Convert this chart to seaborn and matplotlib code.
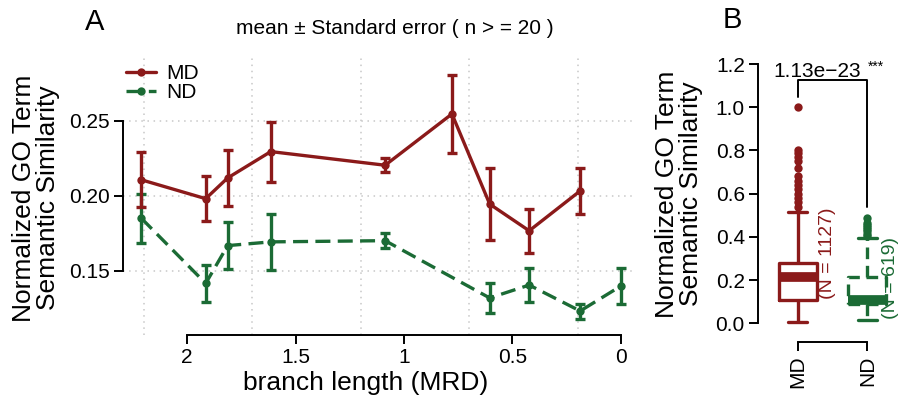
import pandas as pd
import matplotlib
matplotlib.use("Agg")
import matplotlib.pyplot as plt
import seaborn as sns
from matplotlib.lines import Line2D

# Panel A: mean +/- standard error per branch length (MRD)
branch_md = [2.211, 1.914, 1.813, 1.614, 1.087, 0.779, 0.605, 0.423, 0.188]
mean_md = [0.2108, 0.1982, 0.2120, 0.2296, 0.2205, 0.2547, 0.1946, 0.1768, 0.2034]
se_md = [0.0183, 0.0150, 0.0189, 0.0200, 0.0048, 0.0258, 0.0240, 0.0146, 0.0153]

branch_nd = [2.211, 1.914, 1.813, 1.614, 1.087, 0.605, 0.423, 0.188, 0.0]
mean_nd = [0.1852, 0.1417, 0.1669, 0.1694, 0.1702, 0.1320, 0.1406, 0.1233, 0.1400]
se_nd = [0.0164, 0.0121, 0.0158, 0.0187, 0.0052, 0.0098, 0.0116, 0.0050, 0.0122]

x_ticks = [2, 1.5, 1, 0.5, 0]
x_ticklabels = ["2", "1.5", "1", "0.5", "0"]
y_ticks_a = [0.15, 0.20, 0.25]
grid_x = [2.2, 1.7, 1.2, 0.7, 0.2]

md_low = [0.008]
md_q1 = [0.108] * 15
md_med = [0.215] * 15
md_q3 = [0.279] * 15
md_whisk_hi = [0.515]
md_out = [0.54, 0.56, 0.58, 0.60, 0.62, 0.64, 0.66, 0.68, 0.72, 0.75, 0.77, 0.79, 0.80, 1.00]

nd_low = [0.015, 0.03, 0.04, 0.05, 0.06, 0.065, 0.07, 0.075, 0.08, 0.085]
nd_q1 = [0.088] * 11
nd_med = [0.11] * 11
nd_q3 = [0.212] * 11
nd_whisk_hi = [0.378]
nd_out = [0.395, 0.405, 0.415, 0.425, 0.435, 0.445, 0.455, 0.465, 0.485]

n_md = 1127
n_nd = 619
p_value = "1.13e\u221223"

colors = {"MD": "#8B1A1A", "ND": "#1B6B35"}

sns.set_style("ticks")
plt.rcParams["font.family"] = ["Liberation Sans", "DejaVu Sans"]
plt.rcParams["text.color"] = "black"
plt.rcParams["axes.labelcolor"] = "black"
plt.rcParams["xtick.color"] = "black"
plt.rcParams["ytick.color"] = "black"

fig = plt.figure(figsize=(9.02, 4.04), dpi=100)
ax_a = fig.add_axes([0.1364, 0.1708, 0.5643, 0.6856])
ax_b = fig.add_axes([0.8404, 0.1535, 0.1585, 0.7030])

# ---- panel A ----
for v in grid_x:
    ax_a.axvline(v, color="#c8c8c8", ls=(0, (1, 3)), lw=1.1, zorder=0)
for h in y_ticks_a:
    ax_a.axhline(h, color="#c8c8c8", ls=(0, (1, 3)), lw=1.1, zorder=0)

df_a = pd.DataFrame({
    "branch": branch_md + branch_nd,
    "sim": mean_md + mean_nd,
    "group": ["MD"] * len(branch_md) + ["ND"] * len(branch_nd),
})
sns.lineplot(data=df_a, x="branch", y="sim", hue="group", style="group",
             palette=colors, dashes={"MD": "", "ND": (4.5, 2.2)},
             markers={"MD": "o", "ND": "o"}, markersize=6, markeredgewidth=0,
             linewidth=2.4, sort=False, estimator=None, legend=False, ax=ax_a)

ax_a.errorbar(branch_nd, mean_nd, yerr=se_nd, fmt="none", ecolor=colors["ND"],
              elinewidth=2.4, capsize=3.5, capthick=2.4)
ax_a.errorbar(branch_md, mean_md, yerr=se_md, fmt="none", ecolor=colors["MD"],
              elinewidth=2.4, capsize=3.5, capthick=2.4)

ax_a.set_xlim(2.295, -0.051)
ax_a.set_ylim(0.1073, 0.292)
ax_a.set_xticks(x_ticks)
ax_a.set_xticklabels(x_ticklabels)
ax_a.set_yticks(y_ticks_a)
ax_a.set_yticklabels([f"{t:.2f}" for t in y_ticks_a])
ax_a.set_xlabel("")
ax_a.set_ylabel("")
sns.despine(ax=ax_a)
ax_a.spines["left"].set_bounds(0.15, 0.25)
ax_a.spines["bottom"].set_bounds(0, 2)
for s in ["left", "bottom"]:
    ax_a.spines[s].set_linewidth(1.4)
    ax_a.spines[s].set_color("black")
ax_a.tick_params(length=6.5, width=1.4, labelsize=15, pad=3, colors="black")

handles = [
    Line2D([], [], color=colors["MD"], lw=2.4, marker="o", markersize=6, markeredgewidth=0),
    Line2D([], [], color=colors["ND"], lw=2.4, ls=(0, (4.5, 2.2)), marker="o", markersize=6, markeredgewidth=0),
]
ax_a.legend(handles, ["MD", "ND"], loc="upper left", bbox_to_anchor=(-0.022, 1.03),
            frameon=False, fontsize=15, handlelength=1.4, handletextpad=0.5,
            labelspacing=0.0, borderpad=0.2)

# ---- panel B ----
df_md = pd.DataFrame({"group": "MD", "sim": md_low + md_q1 + md_med + md_q3 + md_whisk_hi + md_out})
df_nd = pd.DataFrame({"group": "ND", "sim": nd_low + nd_q1 + nd_med + nd_q3 + nd_whisk_hi + nd_out})

for df, grp, ls in [(df_md, "MD", "-"), (df_nd, "ND", (0, (3.5, 2)))]:
    c = colors[grp]
    sns.boxplot(data=df, x="group", y="sim", order=["MD", "ND"], color=c, fill=False,
                width=0.55, linewidth=2.4,
                boxprops={"linestyle": ls, "color": c},
                whiskerprops={"linestyle": ls, "color": c},
                capprops={"color": c},
                medianprops={"linewidth": 7, "color": c, "solid_capstyle": "butt"},
                flierprops={"marker": "o", "markersize": 6, "markerfacecolor": c,
                            "markeredgecolor": c, "markeredgewidth": 0},
                ax=ax_b)

ax_b.set_xlim(-0.570, 1.484)
ax_b.set_ylim(-0.0866, 1.228)
ax_b.set_yticks([0.0, 0.2, 0.4, 0.6, 0.8, 1.0, 1.2])
ax_b.set_yticklabels(["0.0", "0.2", "0.4", "0.6", "0.8", "1.0", "1.2"])
ax_b.set_xticks([0, 1])
ax_b.set_xticklabels(["MD", "ND"], rotation=90)
ax_b.set_xlabel("")
ax_b.set_ylabel("")
sns.despine(ax=ax_b)
ax_b.spines["left"].set_bounds(0, 1.2)
ax_b.spines["bottom"].set_bounds(0, 1)
for s in ["left", "bottom"]:
    ax_b.spines[s].set_linewidth(1.4)
    ax_b.spines[s].set_color("black")
ax_b.tick_params(length=6.5, width=1.4, labelsize=15, pad=3, colors="black")

ax_b.plot([0, 0, 1, 1], [1.049, 1.126, 1.126, 0.54], color="black", lw=1.4, clip_on=False)
ax_b.text(0.285, 1.141, p_value, ha="center", va="baseline", fontsize=15)
ax_b.text(1.01, 1.185, "***", ha="left", va="center", fontsize=10)
ax_b.text(0.435, 0.325, f"(N = {n_md})", rotation=90, ha="center", va="center",
          fontsize=14, color=colors["MD"])
ax_b.text(1.34, 0.21, f"(N = {n_nd})", rotation=90, ha="center", va="center",
          fontsize=14, color=colors["ND"])

# ---- shared texts ----
fig.text(95 / 902, 1 - 22 / 404, "A", ha="center", va="center", fontsize=21)
fig.text(732 / 902, 1 - 20 / 404, "B", ha="center", va="center", fontsize=21)
fig.text(395 / 902, 1 - 28 / 404, "mean \u00b1 Standard error ( n > = 20 )",
         ha="center", va="center", fontsize=15)
fig.text(36 / 902, 1 - 198 / 404, "Normalized GO Term\nSemantic Similarity",
         rotation=90, ha="center", va="center", fontsize=19, linespacing=1.0)
fig.text(679 / 902, 1 - 194 / 404, "Normalized GO Term\nSemantic Similarity",
         rotation=90, ha="center", va="center", fontsize=19, linespacing=1.0)
fig.text(366 / 902, 1 - 383 / 404, "branch length (MRD)", ha="center", va="center",
         fontsize=19)

fig.savefig("out.png", dpi=100)
